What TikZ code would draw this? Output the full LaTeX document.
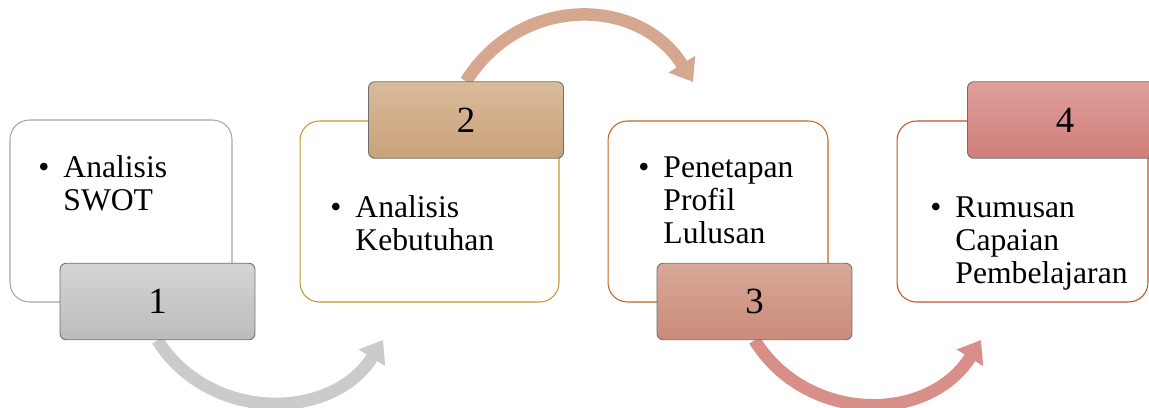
\documentclass[tikz,border=0pt]{standalone}
\usepackage{fontspec}
\setmainfont{Liberation Serif}
\usepackage{tikz}
\usetikzlibrary{arrows.meta, backgrounds}
\definecolor{edgegray}{RGB}{166,166,166}
\definecolor{edgegold}{RGB}{199,150,44}
\definecolor{edgeorange}{RGB}{197,102,28}
\definecolor{edgered}{RGB}{196,82,31}
\definecolor{tabedge}{RGB}{110,110,110}
\definecolor{grayhi}{RGB}{212,212,212}
\definecolor{graylo}{RGB}{188,188,188}
\definecolor{tanhi}{RGB}{217,187,155}
\definecolor{tanlo}{RGB}{201,162,122}
\definecolor{salmonhi}{RGB}{216,168,152}
\definecolor{salmonlo}{RGB}{203,139,121}
\definecolor{rosehi}{RGB}{222,160,156}
\definecolor{roselo}{RGB}{208,126,120}
\definecolor{arrowgray}{RGB}{203,203,203}
\definecolor{arrowtan}{RGB}{213,167,143}
\definecolor{arrowrose}{RGB}{216,143,138}
\newcommand{\bulletitem}[1]{\textbullet\hspace{8pt}\begin{tabular}[t]{@{}l@{}}#1\end{tabular}}
\tikzset{
  card/.style={rectangle, draw=#1, fill=white, rounded corners=11pt,
    line width=0.6pt, inner sep=0pt},
  tab/.style 2 args={rectangle, draw=tabedge, top color=#1, bottom color=#2,
    rounded corners=3.5pt, line width=0.5pt,
    minimum width=3.9cm, minimum height=1.53cm,
    font=\fontsize{21}{25}\selectfont},
  itemtext/.style={anchor=base west, inner sep=0pt,
    font=\fontsize{18}{19}\selectfont},
  flow/.style={line width=0.25cm, draw=#1,
    -{Triangle[length=0.42cm, width=0.6cm]}}
}
\begin{document}
\begin{tikzpicture}[x=0.02cm, y=0.02cm]
  \clip (0,0) rectangle (1149,407);

  % cards
  \node[card=edgegray, minimum width=4.44cm, minimum height=3.64cm] (b1) at (121,196) {};
  \node[card=edgegold, minimum width=5.18cm, minimum height=3.62cm] (b2) at (429.5,195.5) {};
  \node[card=edgeorange, minimum width=4.40cm, minimum height=3.62cm] (b3) at (718,195.5) {};
  \node[card=edgered, minimum width=5.02cm, minimum height=3.62cm] (b4) at (1022.5,195.5) {};

  % card texts
  \node[itemtext] (t1) at (38,230) {\bulletitem{Analisis\\SWOT}};
  \node[itemtext] (t2) at (330,190) {\bulletitem{Analisis\\Kebutuhan}};
  \node[itemtext] (t3) at (638,230) {\bulletitem{Penetapan\\Profil\\Lulusan}};
  \node[itemtext] (t4) at (930,190) {\bulletitem{Rumusan\\Capaian\\Pembelajaran}};

  % number tabs
  \node[tab={grayhi}{graylo}] (n1) at (157.5,105.5) {1};
  \node[tab={tanhi}{tanlo}] (n2) at (466,287) {2};
  \node[tab={salmonhi}{salmonlo}] (n3) at (754.5,105.5) {3};
  \node[tab={rosehi}{roselo}] (n4) at (1065,287) {4};

  % curved arrows between the steps
  \coordinate (e1) at (383,67);
  \coordinate (e2) at (693,325);
  \coordinate (e3) at (981,67);
  \begin{scope}[on background layer]
    \draw[flow=arrowgray] (n1.south) to[out=-58, in=-122, looseness=1.1] (e1);
    \draw[flow=arrowtan] (n2.north) to[out=58, in=122, looseness=1.15] (e2);
    \draw[flow=arrowrose] (n3.south) to[out=-58, in=-122, looseness=1.12] (e3);
  \end{scope}
\end{tikzpicture}
\end{document}
